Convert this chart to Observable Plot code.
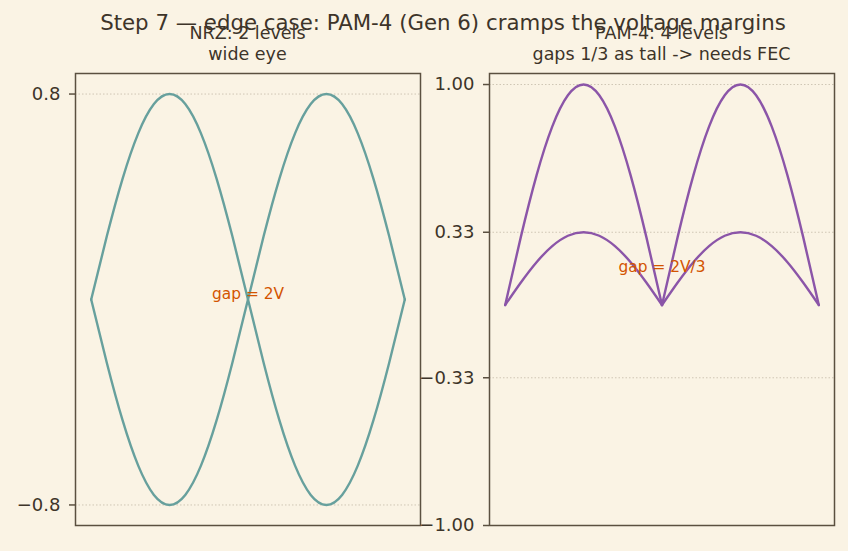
<!DOCTYPE html>
<html>
<head>
<meta charset="utf-8">
<script src="https://cdn.jsdelivr.net/npm/d3@7"></script>
<script src="https://cdn.jsdelivr.net/npm/@observablehq/plot@0.6"></script>
<style>
  html, body { margin: 0; padding: 0; background: #faf3e4; }
  #wrap { position: relative; width: 848px; height: 551px; background: #faf3e4; font-family: "DejaVu Sans", sans-serif; color: #3d3429; overflow: hidden; }
  .t { position: absolute; white-space: nowrap; transform: translate(-50%, -50%); line-height: 1; }
  .p { position: absolute; top: 0; }
</style>
</head>
<body>
<div id="wrap"></div>
<script>
// ---- data ----
const mainTitle = "Step 7 — edge case: PAM-4 (Gen 6) cramps the voltage margins";
const leftTitle = ["NRZ: 2 levels", "wide eye"];
const rightTitle = ["PAM-4: 4 levels", "gaps 1/3 as tall -> needs FEC"];
const leftNote = "gap = 2V";
const rightNote = "gap = 2V/3";

// time axis (unit intervals), shared by both panels
const xs = [0, 0.1, 0.2, 0.3, 0.4, 0.5, 0.6, 0.7, 0.8, 0.9, 1.0,
            1.1, 1.2, 1.3, 1.4, 1.5, 1.6, 1.7, 1.8, 1.9, 2.0];

// NRZ eye traces
const nrzUp = [0, 0.247, 0.470, 0.647, 0.761, 0.800, 0.761, 0.647, 0.470, 0.247, 0,
               -0.247, -0.470, -0.647, -0.761, -0.800, -0.761, -0.647, -0.470, -0.247, 0];
const nrzDown = [0, -0.247, -0.470, -0.647, -0.761, -0.800, -0.761, -0.647, -0.470, -0.247, 0,
                 0.247, 0.470, 0.647, 0.761, 0.800, 0.761, 0.647, 0.470, 0.247, 0];

// PAM-4 eye traces
const pamTall = [0, 0.309, 0.588, 0.809, 0.951, 1.000, 0.951, 0.809, 0.588, 0.309, 0,
                 0.309, 0.588, 0.809, 0.951, 1.000, 0.951, 0.809, 0.588, 0.309, 0];
const pamShort = [0, 0.102, 0.194, 0.267, 0.314, 0.330, 0.314, 0.267, 0.194, 0.102, 0,
                  0.102, 0.194, 0.267, 0.314, 0.330, 0.314, 0.267, 0.194, 0.102, 0];

const leftTicks = [-0.8, 0.8];
const leftTickLabels = ["−0.8", "0.8"];
const rightTicks = [-1, -0.33, 0.33, 1];
const rightTickLabels = ["−1.00", "−0.33", "0.33", "1.00"];

// ---- styling ----
const ink = "#3d3429";
const frameCol = "#5b5040";
const teal = "#67a09d";
const purple = "#8b55a8";
const orange = "#d35400";
const gridCol = "#cfc6b4";

// build tables
const nrzRows = [];
xs.forEach((x, i) => nrzRows.push({x, y: nrzUp[i], s: "up"}));
xs.forEach((x, i) => nrzRows.push({x, y: nrzDown[i], s: "down"}));
const pamRows = [];
[["tall", pamTall], ["short", pamShort]].forEach(([name, arr]) => {
  xs.forEach((x, i) => {
    if (i <= 10) pamRows.push({x, y: arr[i], s: name + "-a"});
    if (i >= 10) pamRows.push({x, y: arr[i], s: name + "-b"});
  });
});

const wrap = document.getElementById("wrap");

function panel({rows, color, domainY, ticks, labels, note, noteY, left, marginLeft, width}) {
  const chart = Plot.plot({
    width,
    height: 551,
    marginLeft,
    marginRight: width - marginLeft - 345,
    marginTop: 73,
    marginBottom: 26,
    style: {background: "transparent", fontFamily: "DejaVu Sans, sans-serif", color: ink, overflow: "visible"},
    x: {domain: [-0.1, 2.1], axis: null},
    y: {domain: domainY, axis: null},
    marks: [
      Plot.ruleY(ticks, {stroke: gridCol, strokeWidth: 1, strokeDasharray: "1.5,2"}),
      Plot.line(rows, {x: "x", y: "y", z: "s", stroke: color, strokeWidth: 2.4, curve: "natural"}),
      Plot.text([note], {x: [1], y: [noteY], text: d => d, fill: orange, fontSize: 15.4, textAnchor: "middle"}),
      Plot.axisY(ticks, {
        tickSize: 6, tickPadding: 9, fontSize: 18, stroke: frameCol, fill: ink, label: null,
        strokeWidth: 1.5, tickFormat: (d, i) => labels[i]
      }),
      Plot.frame({stroke: frameCol, strokeWidth: 1.5})
    ]
  });
  chart.classList.add("p");
  chart.style.left = left + "px";
  wrap.appendChild(chart);
}

panel({rows: nrzRows, color: teal, domainY: [-0.88, 0.88], ticks: leftTicks, labels: leftTickLabels,
       note: leftNote, noteY: 0.02, left: 0, marginLeft: 75, width: 430});
panel({rows: pamRows, color: purple, domainY: [-1, 1.05], ticks: rightTicks, labels: rightTickLabels,
       note: rightNote, noteY: 0.17, left: 410, marginLeft: 79, width: 438});

function addText(txt, x, y, size) {
  const d = document.createElement("div");
  d.className = "t";
  d.textContent = txt;
  d.style.left = x + "px";
  d.style.top = y + "px";
  d.style.fontSize = size + "px";
  wrap.appendChild(d);
}
addText(leftTitle[0], 247.5, 34, 17.5);
addText(leftTitle[1], 247.5, 55, 17.5);
addText(rightTitle[0], 661.5, 34, 17.5);
addText(rightTitle[1], 661.5, 55, 17.5);
addText(mainTitle, 443, 23, 21.3);
</script>
</body>
</html>
